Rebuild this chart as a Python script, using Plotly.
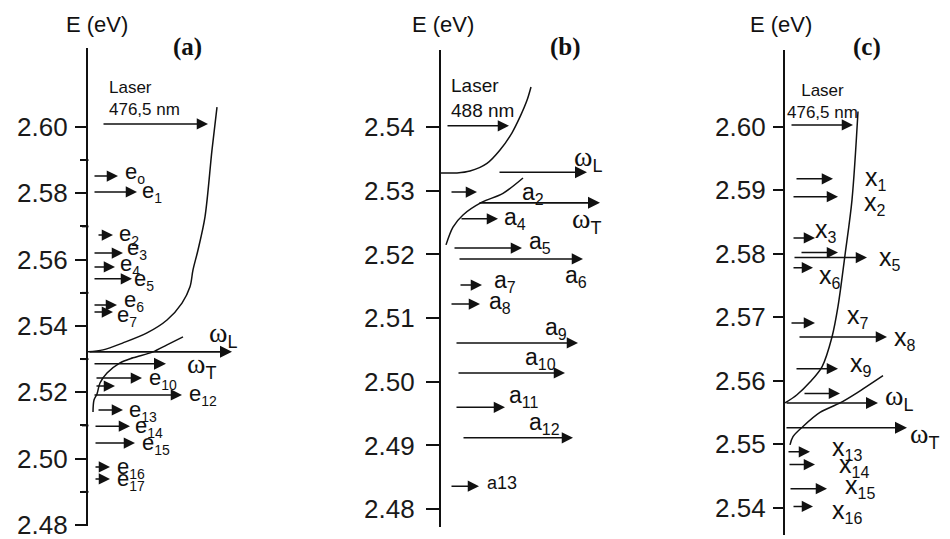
import plotly.graph_objects as go

W, H = 950, 539
INK = "#111111"
SANS = "Liberation Sans, Arial, sans-serif"
SERIF = "Liberation Serif, Times New Roman, serif"


def sub(base, idx, size=14):
    return f"{base}<sub><span style='font-size:{size}px'>{idx}</span></sub>"


# ---------------- Panel (a) ----------------
a_ticks = [2.48, 2.50, 2.52, 2.54, 2.56, 2.58, 2.60]
a_minor = [2.49, 2.51, 2.53, 2.55, 2.57, 2.59]
a_E = [2.5852, 2.5804, 2.5674, 2.5620, 2.5578, 2.5542, 2.5463, 2.5442,
       2.5243, 2.5219, 2.5192, 2.5147, 2.5098, 2.5047, 2.4975, 2.4939]
a_idx = ["o", "1", "2", "3", "4", "5", "6", "7", "10", "", "12", "13", "14", "15", "16", "17"]
a_x0 = [5, 5, 9, 5, 5, 5, 5, 5, 7, 7, 5, 9, 6, 6, 6, 6]
a_x1 = [30, 49, 25, 35, 27, 44, 29, 25, 54, 27, 94, 35, 42, 47, 22, 22]
a_upper_k = [129, 124, 117, 110, 105, 102, 94, 79, 59, 35, 15, 0]
a_upper_E = [2.6060, 2.5931, 2.5729, 2.5629, 2.5569, 2.5518, 2.5469, 2.5418, 2.5379, 2.5349, 2.5328, 2.5322]
a_lower_k = [95, 79, 65, 45, 32, 19, 12, 9, 6, 5]
a_lower_E = [2.5367, 2.5343, 2.5322, 2.5304, 2.5289, 2.5258, 2.5228, 2.5195, 2.5177, 2.5141]
a_wL = (2.5322, 0, 144)
a_wT = (2.5286, 5, 78)
a_laser = (2.6009, 14, 120)
a_laser_text = "Laser<br>476,5 nm"

# ---------------- Panel (b) ----------------
b_ticks = [2.48, 2.49, 2.50, 2.51, 2.52, 2.53, 2.54]
b_E = [2.5298, 2.5256, 2.5210, 2.5193, 2.5152, 2.5122, 2.5061, 2.5014, 2.4960, 2.4912, 2.4836]
b_idx = ["2", "4", "5", "6", "7", "8", "9", "10", "11", "12", None]
b_x0 = [9, 19, 12, 17, 18, 9, 14, 16, 14, 21, 9]
b_x1 = [36, 57, 81, 142, 41, 39, 137, 124, 64, 132, 38]
b_upper_k = [90, 86, 79, 71, 59, 46, 29, 16, 0]
b_upper_E = [2.5463, 2.5442, 2.5416, 2.5391, 2.5364, 2.5343, 2.5331, 2.5328, 2.5328]
b_lower_k = [82, 62, 41, 22, 12, 5]
b_lower_E = [2.5320, 2.5296, 2.5282, 2.5262, 2.5243, 2.5215]
b_wL = (2.5329, 57, 146)
b_wT = (2.5281, 37, 159)
b_laser = (2.5402, 5, 68)
b_laser_text = "Laser<br>488 nm"

# ---------------- Panel (c) ----------------
c_ticks = [2.54, 2.55, 2.56, 2.57, 2.58, 2.59, 2.60]
c_E = [2.5918, 2.5890, 2.5825, 2.5802, 2.5794, 2.5778, 2.5691, 2.5669, 2.5619, 2.5580,
       2.5488, 2.5468, 2.5430, 2.5402]
c_idx = ["1", "2", "3", "", "5", "6", "7", "8", "9", "", "13", "14", "15", "16"]
c_x0 = [10, 7, 7, 15, 8, 7, 5, 13, 10, 18, 2, 3, 4, 7]
c_x1 = [48, 53, 30, 53, 82, 28, 30, 102, 53, 55, 25, 30, 42, 28]
c_upper_k = [73, 67, 60, 53, 47, 37, 25, 12, 0]
c_upper_E = [2.6024, 2.5885, 2.5798, 2.5717, 2.5669, 2.5622, 2.5598, 2.5578, 2.5565]
c_lower_k = [98, 72, 55, 35, 18, 8, 5]
c_lower_E = [2.5608, 2.5581, 2.5565, 2.5550, 2.5528, 2.5512, 2.5499]
c_wL = (2.5565, 0, 93)
c_wT = (2.5526, 0, 122)
c_laser = (2.6003, 5, 68)
c_laser_text = "Laser<br>476,5 nm"


def labels(base, idxs, size):
    out = []
    for i in idxs:
        if i is None:
            out.append(base + "13")
        elif i == "":
            out.append("")
        else:
            out.append(sub(base, i, size))
    return out


# ---------------- layout helpers (pixel geometry) ----------------
panels = [
    dict(key="", axis_px=88, right_px=300, top_px=48, bot_px=526, rng=[2.4797, 2.6238],
         ticks=a_ticks, minor=a_minor, ticklen=11, standoff=2,
         E=a_E, lab=labels("e", a_idx, 14), x0=a_x0, x1=a_x1,
         lab_x=[35, 52, 29, 37, 30, 44, 34, 27, 59, 0, 99, 39, 45, 52, 27, 27],
         lab_dy=[3, 0, 0, 4, 2, -1, 4, -4, -1, 0, 0, -1, -1, -1, -1, -1],
         lab_size=22,
         up=(a_upper_k, a_upper_E), lo=(a_lower_k, a_lower_E),
         wL=a_wL, wT=a_wT, wL_lab=(119, 17), wT_lab=(97, -2),
         laser=a_laser, laser_text=a_laser_text, laser_pos=(19, 25, "left"), laser_size=17,
         title_px=(97, 24), tag="(a)", tag_px=(187, 47)),
    dict(key="2", axis_px=441, right_px=641, top_px=50, bot_px=527, rng=[2.4772, 2.5521],
         ticks=b_ticks, minor=None, ticklen=13, standoff=6,
         E=b_E, lab=labels("a", b_idx, 16), x0=b_x0, x1=b_x1,
         lab_x=[79, 61, 86, 122, 51, 46, 102, 82, 66, 86, 44],
         lab_dy=[-1, 0, 6, -18, 4, 2, 14, 14, 11, 14, 3],
         lab_size=23,
         up=(b_upper_k, b_upper_E), lo=(b_lower_k, b_lower_E),
         wL=b_wL, wT=b_wT, wL_lab=(131, 14), wT_lab=(129, -18),
         laser=b_laser, laser_text=b_laser_text, laser_pos=(8, 28, "left"), laser_size=19,
         title_px=(443, 24), tag="(b)", tag_px=(565, 47)),
    dict(key="3", axis_px=785, right_px=950, top_px=50, bot_px=535, rng=[2.5357, 2.6121],
         ticks=c_ticks, minor=None, ticklen=10, standoff=2,
         E=c_E, lab=labels("x", c_idx, 16), x0=c_x0, x1=c_x1,
         lab_x=[78, 77, 28, 0, 92, 32, 60, 107, 63, 0, 45, 52, 58, 45],
         lab_dy=[0, -7, 7, 0, -1, -9, 6, -2, 4, 0, 3, -1, 2, -5],
         lab_size=25,
         up=(c_upper_k, c_upper_E), lo=(c_lower_k, c_lower_E),
         wL=c_wL, wT=c_wT, wL_lab=(98, 5), wT_lab=(123, -8),
         laser=c_laser, laser_text=c_laser_text, laser_pos=(37, 23, "center"), laser_size=17,
         title_px=(781, 24), tag="(c)", tag_px=(867, 47)),
]

fig = go.Figure()
annotations = []
shapes = []
layout = {}


def arrow(xr, yr, E, x0, x1, width=1.5):
    return dict(x=x1, y=E, ax=x0, ay=E, xref=xr, yref=yr, axref=xr, ayref=yr,
                text="", showarrow=True, arrowhead=2, arrowsize=1.5,
                arrowwidth=width, arrowcolor=INK, standoff=0, startstandoff=0)


for p in panels:
    k = p["key"]
    xr, yr = "x" + k, "y" + k
    xa, ya = "xaxis" + k, "yaxis" + k
    width_px = p["right_px"] - p["axis_px"]
    dom = [1 - p["bot_px"] / H, 1 - p["top_px"] / H]
    layout[xa] = dict(domain=[p["axis_px"] / W, p["right_px"] / W], range=[0, width_px],
                      visible=False, anchor=yr, fixedrange=True, automargin=False)
    yax = dict(domain=dom, range=p["rng"],
               anchor=xr, showline=True, linecolor=INK, linewidth=2.2,
               ticks="outside", ticklen=p["ticklen"], tickwidth=1.6, tickcolor=INK,
               tickmode="array", tickvals=p["ticks"],
               ticktext=[f"{v:.2f}" for v in p["ticks"]],
               ticklabelstandoff=p["standoff"], ticklabeloverflow="allow",
               automargin=False,
               tickfont=dict(family=SANS, size=26, color="#1a1a1a"),
               showgrid=False, zeroline=False, fixedrange=True)
    if p["minor"]:
        yax["minor"] = dict(tickmode="array", tickvals=p["minor"], ticks="outside",
                            ticklen=6, tickwidth=1.6, tickcolor=INK, showgrid=False)
        # short unlabelled ticks just outside the axis line, placed by the y scale
        for v in p["minor"]:
            shapes.append(dict(type="line", xref="paper", yref=yr,
                               x0=(p["axis_px"] - 6) / W, x1=(p["axis_px"] + 0.5) / W,
                               y0=v, y1=v, line=dict(color=INK, width=1.8), layer="above"))
    layout[ya] = yax

    # dispersion curves
    for kk, EE in (p["up"], p["lo"]):
        fig.add_trace(go.Scatter(x=kk, y=EE, xaxis=xr, yaxis=yr, mode="lines",
                                 line=dict(color=INK, width=1.5, shape="spline", smoothing=0.9),
                                 hoverinfo="skip", showlegend=False))

    # levels
    for E, lab, x0, x1, lx, dy in zip(p["E"], p["lab"], p["x0"], p["x1"], p["lab_x"], p["lab_dy"]):
        annotations.append(arrow(xr, yr, E, x0, x1))
        if lab:
            size = 18 if lab == "a13" else p["lab_size"]
            annotations.append(dict(x=lx, y=E, xref=xr, yref=yr, text=lab, showarrow=False,
                                    xanchor="left", yanchor="middle", yshift=dy,
                                    font=dict(family=SANS, size=size, color=INK)))

    # omega_L and omega_T
    for (E, x0, x1), (lx, dy), s in ((p["wL"], p["wL_lab"], "L"), (p["wT"], p["wT_lab"], "T")):
        annotations.append(arrow(xr, yr, E, x0, x1, width=1.6))
        annotations.append(dict(x=lx, y=E, xref=xr, yref=yr,
                                text=f"ω<sub><span style='font-family:{SANS};font-size:18px'>{s}</span></sub>",
                                showarrow=False, xanchor="left", yanchor="middle", yshift=dy,
                                font=dict(family=SERIF, size=28, color=INK)))

    # laser
    E, x0, x1 = p["laser"]
    annotations.append(arrow(xr, yr, E, x0, x1))
    lx, dy, anc = p["laser_pos"]
    annotations.append(dict(x=lx, y=E, xref=xr, yref=yr, text=p["laser_text"], showarrow=False,
                            xanchor=anc, yanchor="middle", yshift=dy, align=anc,
                            font=dict(family=SANS, size=p["laser_size"], color=INK)))

    # axis title and panel tag
    tx, ty = p["title_px"]
    annotations.append(dict(x=tx / W, y=1 - ty / H, xref="paper", yref="paper", text="E (eV)",
                            showarrow=False, xanchor="center", yanchor="middle",
                            font=dict(family=SANS, size=22, color=INK)))
    gx, gy = p["tag_px"]
    annotations.append(dict(x=gx / W, y=1 - gy / H, xref="paper", yref="paper",
                            text=f"<b>{p['tag']}</b>", showarrow=False,
                            xanchor="center", yanchor="middle",
                            font=dict(family=SERIF, size=25, color=INK)))

fig.update_layout(width=W, height=H, margin=dict(l=0, r=0, t=0, b=0, autoexpand=False),
                  paper_bgcolor="white", plot_bgcolor="white",
                  showlegend=False, annotations=annotations, shapes=shapes, **layout)
fig.update_traces(cliponaxis=False)

fig.write_html("out.html")
